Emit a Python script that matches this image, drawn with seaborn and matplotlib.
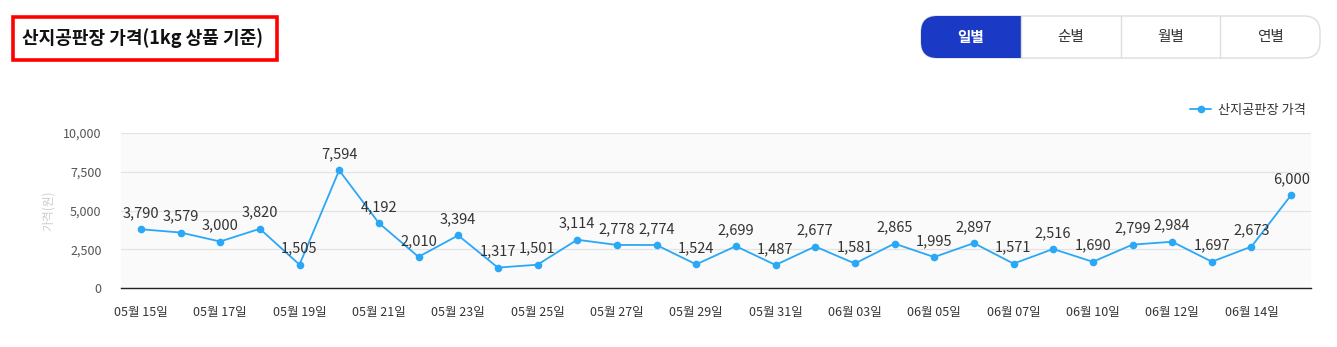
import matplotlib
matplotlib.use("Agg")
import matplotlib.pyplot as plt
from matplotlib.patches import Rectangle, FancyBboxPatch
import seaborn as sns
import pandas as pd

dates = ["05월 15일", "05월 16일", "05월 17일", "05월 18일", "05월 19일", "05월 20일",
         "05월 21일", "05월 22일", "05월 23일", "05월 24일", "05월 25일", "05월 26일",
         "05월 27일", "05월 28일", "05월 29일", "05월 30일", "05월 31일", "06월 02일",
         "06월 03일", "06월 04일", "06월 05일", "06월 06일", "06월 07일", "06월 09일",
         "06월 10일", "06월 11일", "06월 12일", "06월 13일", "06월 14일", "06월 15일"]
prices = [3790, 3579, 3000, 3820, 1505, 7594, 4192, 2010, 3394, 1317,
          1501, 3114, 2778, 2774, 1524, 2699, 1487, 2677, 1581, 2865,
          1995, 2897, 1571, 2516, 1690, 2799, 2984, 1697, 2673, 6000]
y_ticks = [0, 2500, 5000, 7500, 10000]
series_name = "산지공판장 가격"
title = "산지공판장 가격(1kg 상품 기준)"
period_buttons = ["일별", "순별", "월별", "연별"]

sns.set_theme(style="white")
plt.rcParams["font.family"] = ["Noto Sans CJK KR", "DejaVu Sans"]

W, H = 1337, 347
fig = plt.figure(figsize=(W / 100, H / 100), dpi=100)


def fx(px):
    return px / W


def fy(py):
    return 1 - py / H


LINE = "#2aa8f6"
df = pd.DataFrame({"idx": range(len(prices)), "price": prices, "series": series_name})

ax = fig.add_axes([fx(121), fy(288), fx(1311) - fx(121), fy(133) - fy(288)])
ax.set_facecolor("#fafafa")
sns.lineplot(data=df, x="idx", y="price", hue="series", palette=[LINE], marker="o",
             markersize=5.5, markeredgewidth=0, linewidth=1.3, ax=ax)

for i, v in enumerate(prices):
    ax.annotate(f"{v:,}", (i, v), xytext=(0, 6.5), textcoords="offset points",
                ha="center", va="bottom", fontsize=10.5, color="#333333")

ax.set_xlim(-0.5, len(prices) - 0.5)
ax.set_ylim(0, 10000)
ax.set_yticks(y_ticks)
ax.set_yticklabels([f"{t:,}" for t in y_ticks], fontsize=9, color="#555555")
ax.set_xticks(range(0, len(dates), 2))
ax.set_xticklabels(dates[::2], fontsize=9, color="#333333")
ax.tick_params(axis="both", length=0)
ax.tick_params(axis="x", pad=13)
ax.tick_params(axis="y", pad=14)
ax.grid(axis="y", color="#e3e3e3", linewidth=0.9)
ax.set_axisbelow(True)
for s in ["top", "right", "left"]:
    ax.spines[s].set_visible(False)
ax.spines["bottom"].set_color("#222222")
ax.spines["bottom"].set_linewidth(1.0)
ax.set_xlabel("")
ax.set_ylabel("가격(원)", fontsize=8.5, color="#cccccc", labelpad=6)

leg = ax.legend(loc="lower right", bbox_to_anchor=(1.0, 1.07), frameon=False,
                fontsize=9.5, handlelength=1.6, handletextpad=0.5, borderaxespad=0)
for t in leg.get_texts():
    t.set_color("#333333")

# Title with red frame
fig.text(fx(22), fy(38), title, fontsize=13, fontweight="bold", color="#111111",
         ha="left", va="center")
fig.patches.append(Rectangle((fx(13), fy(60)), fx(277) - fx(13), fy(17) - fy(60),
                             transform=fig.transFigure, fill=False,
                             edgecolor="#ff0000", linewidth=2.6))

# Period selector buttons
bx0, bx1, by0, by1 = 921, 1320, 16, 58
seg = (bx1 - bx0) / len(period_buttons)
fig.patches.append(FancyBboxPatch((fx(bx0), fy(by1)), fx(bx1) - fx(bx0), fy(by0) - fy(by1),
                                  boxstyle="round,pad=0,rounding_size=0.012",
                                  transform=fig.transFigure, facecolor="white",
                                  edgecolor="#dddddd", linewidth=1.0, mutation_aspect=W / H))
fig.patches.append(FancyBboxPatch((fx(bx0), fy(by1)), fx(bx0 + seg) - fx(bx0), fy(by0) - fy(by1),
                                  boxstyle="round,pad=0,rounding_size=0.012",
                                  transform=fig.transFigure, facecolor="#1a3ac6",
                                  edgecolor="none", mutation_aspect=W / H))
fig.patches.append(Rectangle((fx(bx0 + seg / 2), fy(by1)), fx(seg / 2), fy(by0) - fy(by1),
                             transform=fig.transFigure, facecolor="#1a3ac6", edgecolor="none"))
for k in range(1, len(period_buttons)):
    xs = fx(bx0 + k * seg)
    fig.add_artist(plt.Line2D([xs, xs], [fy(by1), fy(by0)], transform=fig.transFigure,
                              color="#dddddd", linewidth=1.0))
for k, lab in enumerate(period_buttons):
    cx = fx(bx0 + (k + 0.5) * seg)
    if k == 0:
        fig.text(cx, fy(37), lab, ha="center", va="center", fontsize=10.5,
                 fontweight="bold", color="white")
    else:
        fig.text(cx, fy(37), lab, ha="center", va="center", fontsize=10.5, color="#333333")

fig.savefig("out.png", dpi=100)
